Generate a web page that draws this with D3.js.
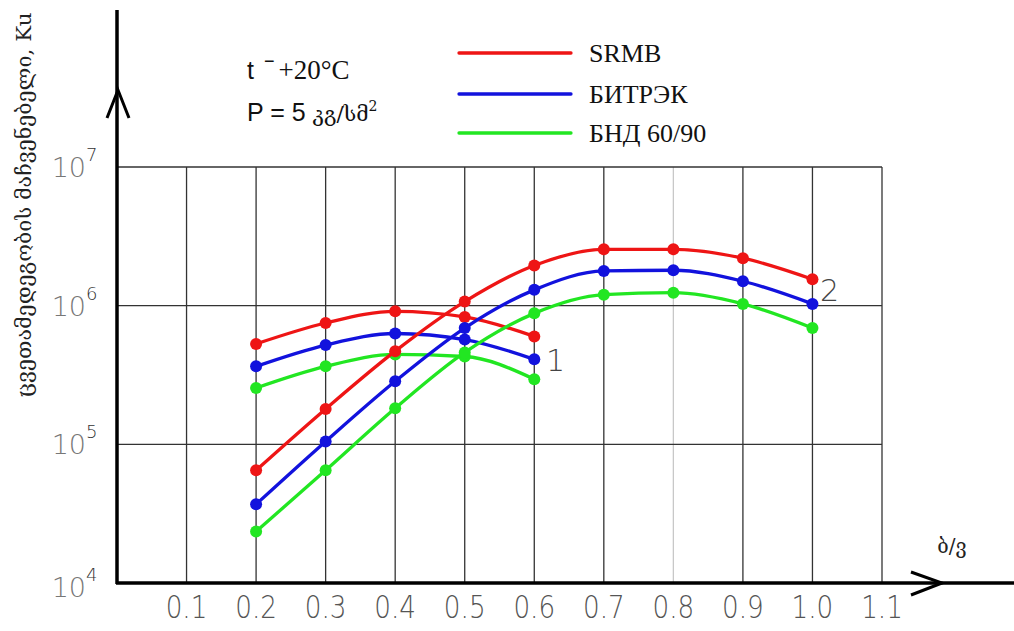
<!DOCTYPE html>
<meta charset="utf-8">
<script src="https://d3js.org/d3.v7.min.js"></script>
<style>
  body { margin: 0; background: #fff; }
</style>
<div id="chart"></div>
<script>
// x positions of the points (ratio)
var xs1 = [0.2, 0.3, 0.4, 0.5, 0.6];
var xs2 = [0.2, 0.3, 0.4, 0.5, 0.6, 0.7, 0.8, 0.9, 1.0];

// curve group 1
var srmb1   = [5.3e5, 7.5e5, 9.1e5, 8.3e5, 6.0e5];
var bitrek1 = [3.65e5, 5.2e5, 6.3e5, 5.7e5, 4.1e5];
var bnd1    = [2.55e5, 3.65e5, 4.45e5, 4.3e5, 2.95e5];

// curve group 2
var srmb2   = [6.5e4, 1.8e5, 4.7e5, 1.07e6, 1.95e6, 2.55e6, 2.55e6, 2.2e6, 1.55e6];
var bitrek2 = [3.7e4, 1.05e5, 2.85e5, 6.9e5, 1.3e6, 1.78e6, 1.8e6, 1.5e6, 1.03e6];
var bnd2    = [2.35e4, 6.5e4, 1.82e5, 4.6e5, 8.8e5, 1.2e6, 1.24e6, 1.03e6, 6.9e5];

var seriesNames = ["SRMB", "БИТРЭК", "БНД 60/90"];
var seriesColors = ["#ee1515", "#1212dd", "#22e622"];
var xTicks = [0.1, 0.2, 0.3, 0.4, 0.5, 0.6, 0.7, 0.8, 0.9, 1.0, 1.1];
var yTicks = [1e4, 1e5, 1e6, 1e7];

var width = 1014, height = 631;

var svg = d3.select("#chart")
  .append("svg")
    .attr("width", width)
    .attr("height", height);

var x = d3.scaleLinear().domain([0, 1.1]).range([117, 882]);
var y = d3.scaleLog().domain([1e4, 1e7]).range([583, 167]);

// grid
svg.append("g")
  .selectAll("line")
  .data(xTicks)
  .enter().append("line")
    .attr("x1", function(d) { return x(d); })
    .attr("x2", function(d) { return x(d); })
    .attr("y1", y(1e7))
    .attr("y2", y(1e4))
    .attr("stroke", function(d) { return d === 0.8 ? "#c8c8c8" : "#333"; })
    .attr("stroke-width", 1.3);

svg.append("g")
  .selectAll("line")
  .data(yTicks.slice(1))
  .enter().append("line")
    .attr("x1", x(0))
    .attr("x2", x(1.1))
    .attr("y1", function(d) { return y(d); })
    .attr("y2", function(d) { return y(d); })
    .attr("stroke", "#333")
    .attr("stroke-width", 1.3);

// axes with arrows
svg.append("line")
  .attr("x1", x(0)).attr("x2", x(0))
  .attr("y1", 10).attr("y2", y(1e4) + 1)
  .attr("stroke", "#000").attr("stroke-width", 3.5);
svg.append("path")
  .attr("d", "M107,118 L118,90 L129,118")
  .attr("fill", "none").attr("stroke", "#000").attr("stroke-width", 3);

svg.append("line")
  .attr("x1", x(0) - 1).attr("x2", 1014)
  .attr("y1", y(1e4)).attr("y2", y(1e4))
  .attr("stroke", "#000").attr("stroke-width", 3.5);
svg.append("path")
  .attr("d", "M911,572 L942,583 L911,595")
  .attr("fill", "none").attr("stroke", "#000").attr("stroke-width", 3);

// x tick labels
svg.append("g")
  .selectAll("text")
  .data(xTicks)
  .enter().append("text")
    .attr("x", function(d) { return x(d); })
    .attr("y", 618)
    .attr("text-anchor", "middle")
    .style("font-family", "'DejaVu Sans'")
    .style("font-weight", 200)
    .style("font-size", "32px")
    .attr("fill", "#555")
    .attr("transform", function(d) { return "translate(" + x(d) + ",0) scale(0.82,1) translate(" + (-x(d)) + ",0)"; })
    .text(function(d) { return d.toFixed(1); });

// y tick labels (10 with superscript)
var yl = svg.append("g")
  .selectAll("g")
  .data(yTicks)
  .enter().append("g")
    .attr("transform", function(d) { return "translate(86," + (y(d) + (d === 1e4 ? 14 : 10)) + ")"; });
yl.append("text")
  .attr("text-anchor", "end")
  .style("font-family", "'DejaVu Sans'")
  .style("font-weight", 200)
  .style("font-size", "27px")
  .attr("fill", "#777")
  .text("10");
yl.append("text")
  .attr("x", 0)
  .attr("y", -16)
  .style("font-family", "'DejaVu Sans'")
  .style("font-weight", 200)
  .style("font-size", "18px")
  .attr("fill", "#333")
  .text(function(d) { return Math.round(Math.log10(d)); });

// curves
var line = d3.line()
  .x(function(d) { return x(d[0]); })
  .y(function(d) { return y(d[1]); })
  .curve(d3.curveMonotoneX);

var groups = [
  [xs1, [srmb1, bitrek1, bnd1]],
  [xs2, [srmb2, bitrek2, bnd2]]
];

groups.forEach(function(g) {
  g[1].forEach(function(vals, i) {
    var pts = g[0].map(function(xv, j) { return [xv, vals[j]]; });
    svg.append("path")
      .datum(pts)
      .attr("d", line)
      .attr("fill", "none")
      .attr("stroke", seriesColors[i])
      .attr("stroke-width", 3.3);
    svg.append("g")
      .selectAll("circle")
      .data(pts)
      .enter().append("circle")
        .attr("cx", function(d) { return x(d[0]); })
        .attr("cy", function(d) { return y(d[1]); })
        .attr("r", 6)
        .attr("fill", seriesColors[i]);
  });
});

// curve numbers
svg.append("text")
  .attr("x", 546).attr("y", 371)
  .style("font-family", "'DejaVu Sans'").style("font-weight", 200)
  .style("font-size", "30px").attr("fill", "#444")
  .text("1");
svg.append("text")
  .attr("x", 820).attr("y", 301)
  .style("font-family", "'DejaVu Sans'").style("font-weight", 200)
  .style("font-size", "30px").attr("fill", "#444")
  .text("2");

// legend
var legY = [53, 94, 133];
seriesNames.forEach(function(n, i) {
  svg.append("line")
    .attr("x1", 459).attr("x2", 571)
    .attr("y1", legY[i]).attr("y2", legY[i])
    .attr("stroke", seriesColors[i])
    .attr("stroke-width", 3.3)
    .attr("stroke-linecap", "round");
  svg.append("text")
    .attr("x", 589).attr("y", legY[i] + 9)
    .style("font-family", "'Liberation Serif'")
    .style("font-size", "26px")
    .attr("fill", "#111")
    .text(n);
});

// conditions
var t1 = svg.append("text")
  .attr("x", 247).attr("y", 79)
  .style("font-size", "25px").attr("fill", "#111");
t1.append("tspan").style("font-family", "'Liberation Sans'").text("t");
t1.append("tspan").attr("dx", 10).attr("dy", -12).style("font-family", "'Liberation Sans'").style("font-size", "18px").text("−");
t1.append("tspan").attr("dy", 12).attr("dx", 4).style("font-family", "'Liberation Serif'").style("font-size", "27px").text("+20°C");

var t2 = svg.append("text")
  .attr("x", 247).attr("y", 121)
  .style("font-size", "25px").attr("fill", "#111");
t2.append("tspan").style("font-family", "'Liberation Sans'").text("P = 5 ");
t2.append("tspan").style("font-family", "'DejaVu Serif'").style("font-size", "21px").text("კგ/სმ");
t2.append("tspan").attr("dy", -10).style("font-family", "'DejaVu Serif'").style("font-size", "14px").text("2");

// axis titles
svg.append("text")
  .attr("transform", "translate(31,205) rotate(-90)")
  .attr("text-anchor", "middle")
  .attr("textLength", 385)
  .attr("lengthAdjust", "spacingAndGlyphs")
  .style("font-family", "'DejaVu Serif'")
  .style("font-size", "21px")
  .attr("fill", "#222")
  .text("ცვეთამედეგობის მაჩვენებელი, Ku");

svg.append("text")
  .attr("x", 952).attr("y", 553)
  .attr("text-anchor", "middle")
  .style("font-family", "'DejaVu Serif'")
  .style("font-size", "20px")
  .attr("fill", "#222")
  .text("ბ/ვ");
</script>
